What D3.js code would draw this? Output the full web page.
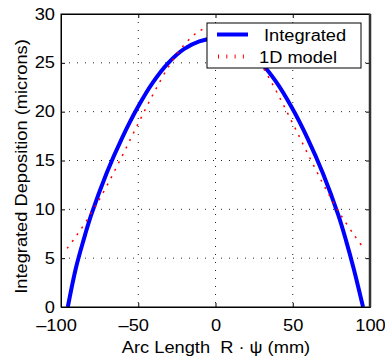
<!DOCTYPE html>
<html>
<head>
<meta charset="utf-8">
<script src="https://cdn.jsdelivr.net/npm/d3@7"></script>
<style>
    body { margin: 0; background: #fff; }
    #chart { width: 385px; height: 360px; }
    text { font-family: "Liberation Sans", Arial, sans-serif; font-size: 16px; fill: #000; }
</style>
</head>
<body>
<div id="chart"></div>
<script>

// Integrated deposition (blue solid)
const integratedX = [-95.6, -90.5, -85.5, -80.5, -70.5, -60.5, -50.5, -40.5, -30.5, -20.5, -10.5, -0.5,
    9.5, 19.5, 29.5, 39.5, 49.5, 59.5, 69.5, 79.5, 84.5, 89.5, 95.5];
const integratedY = [0, 3.9, 6.8, 9.4, 13.7, 17.3, 20.4, 23.0, 25.0, 26.4, 27.2, 27.5,
    27.2, 26.4, 25.0, 23.0, 20.4, 17.3, 13.7, 9.4, 6.8, 3.9, 0];

// 1D model (red dotted)
const modelX = [-96, -90, -80, -70, -60, -50, -40, -30, -20, -10, 0, 10, 20, 30, 40, 50, 60, 70, 80, 90, 96];
const modelY = [6.0, 7.3, 9.7, 12.5, 15.6, 18.8, 21.9, 24.7, 26.9, 28.3, 28.8, 28.3, 26.9, 24.7, 21.9, 18.8, 15.6, 12.5, 9.7, 7.3, 6.0];

const xTicks = [-100, -50, 0, 50, 100];
const yTicks = [0, 5, 10, 15, 20, 25, 30];
const seriesNames = ["Integrated", "1D model"];

class DepositionVis {

    constructor(parentElement) {
        this.parentElement = parentElement;
        this.integrated = integratedX.map((x, i) => ({x: x, y: integratedY[i]}));
        this.model = modelX.map((x, i) => ({x: x, y: modelY[i]}));
        this.initVis();
    }

    initVis() {
        let vis = this;

        vis.margin = {top: 14, right: 15, bottom: 53, left: 61};
        vis.width = 385 - vis.margin.left - vis.margin.right;
        vis.height = 360 - vis.margin.top - vis.margin.bottom;

        vis.svg = d3.select("#" + vis.parentElement).append("svg")
            .attr("width", 385)
            .attr("height", 360)
            .append("g")
            .attr("transform", `translate(${vis.margin.left}, ${vis.margin.top})`);

        vis.x = d3.scaleLinear().domain([-100, 100]).range([0, vis.width]);
        vis.y = d3.scaleLinear().domain([0, 30]).range([vis.height, 0]);

        // dotted grid
        vis.svg.selectAll(".vgrid")
            .data(xTicks.slice(1, -1))
            .enter()
            .append("line")
            .attr("class", "vgrid")
            .attr("x1", d => vis.x(d)).attr("x2", d => vis.x(d))
            .attr("y1", 0).attr("y2", vis.height)
            .attr("stroke", "#222")
            .attr("stroke-dasharray", "1,7");

        vis.svg.selectAll(".hgrid")
            .data(yTicks.slice(1, -1))
            .enter()
            .append("line")
            .attr("class", "hgrid")
            .attr("x1", 0).attr("x2", vis.width)
            .attr("y1", d => vis.y(d)).attr("y2", d => vis.y(d))
            .attr("stroke", "#222")
            .attr("stroke-dasharray", "1,7");

        // axes with inward ticks on all four sides
        vis.svg.append("g")
            .attr("transform", `translate(0, ${vis.height})`)
            .call(d3.axisBottom(vis.x).tickValues(xTicks).tickSizeInner(-4).tickSizeOuter(0).tickPadding(13)
                .tickFormat(d => d < 0 ? "\u2013" + Math.abs(d) : d));
        vis.svg.append("g")
            .call(d3.axisTop(vis.x).tickValues(xTicks).tickSizeInner(-4).tickSizeOuter(0).tickFormat(""));
        vis.svg.append("g")
            .call(d3.axisLeft(vis.y).tickValues(yTicks).tickSizeInner(-4).tickSizeOuter(0).tickPadding(6));
        vis.svg.append("g")
            .attr("transform", `translate(${vis.width}, 0)`)
            .call(d3.axisRight(vis.y).tickValues(yTicks).tickSizeInner(-4).tickSizeOuter(0).tickFormat(""));

        vis.svg.selectAll(".domain").attr("stroke", "#000");
        vis.svg.selectAll(".tick line").attr("stroke", "#000");
        vis.svg.selectAll(".tick text").style("font-size", "16px").style("font-family", null);

        // clip so the curves stop at the frame
        vis.svg.append("clipPath").attr("id", "plotClip")
            .append("rect").attr("width", vis.width).attr("height", vis.height);

        vis.line = d3.line()
            .curve(d3.curveCatmullRom.alpha(0.5))
            .x(d => vis.x(d.x))
            .y(d => vis.y(d.y));

        vis.svg.append("path")
            .attr("clip-path", "url(#plotClip)")
            .attr("d", vis.line(vis.integrated))
            .attr("fill", "none")
            .attr("stroke", "#0000ff")
            .attr("stroke-width", 4);

        vis.svg.append("path")
            .attr("clip-path", "url(#plotClip)")
            .attr("d", vis.line(vis.model))
            .attr("fill", "none")
            .attr("stroke", "#ff0000")
            .attr("stroke-width", 1.5)
            .attr("stroke-dasharray", "2,6.3");

        // frame on top
        vis.svg.append("rect")
            .attr("width", vis.width).attr("height", vis.height)
            .attr("fill", "none").attr("stroke", "#000").attr("stroke-width", 1);
        vis.svg.append("line")
            .attr("x1", vis.width).attr("x2", vis.width)
            .attr("y1", 0).attr("y2", vis.height)
            .attr("stroke", "#333").attr("stroke-width", 2.5);

        // legend
        vis.legend = vis.svg.append("g")
            .attr("transform", "translate(146, 9)");
        vis.legend.append("rect")
            .attr("width", 154).attr("height", 45)
            .attr("fill", "#fff").attr("stroke", "#000");
        vis.legend.append("line")
            .attr("x1", 10).attr("x2", 41).attr("y1", 11.5).attr("y2", 11.5)
            .attr("stroke", "#0000ff").attr("stroke-width", 4);
        vis.legend.append("line")
            .attr("x1", 11).attr("x2", 42).attr("y1", 33.5).attr("y2", 33.5)
            .attr("stroke", "#ff0000").attr("stroke-width", 4)
            .attr("stroke-dasharray", "1,7.3");
        vis.legend.selectAll(".labels")
            .data(seriesNames)
            .enter()
            .append("text")
            .attr("class", "labels")
            .attr("x", (d, i) => i === 0 ? 57 : 52)
            .attr("y", (d, i) => 17.5 + i * 22.5)
            .text(d => d);

        // axis titles
        vis.svg.append("text")
            .attr("x", vis.x(0) + 0.5)
            .attr("y", vis.height + 46)
            .attr("text-anchor", "middle")
            .style("white-space", "pre")
            .text("Arc Length  R \u00b7 \u03c8 (mm)");

        vis.svg.append("text")
            .attr("transform", `translate(${-34}, ${vis.height / 2 + 6}) rotate(-90)`)
            .attr("text-anchor", "middle")
            .text("Integrated Deposition (microns)");

        // reference type is a little wider than Arial
        d3.selectAll("svg text").each(function() {
            let w = this.getComputedTextLength();
            if (w > 0) {
                d3.select(this).attr("textLength", w * 1.14).attr("lengthAdjust", "spacingAndGlyphs");
            }
        });
        vis.svg.selectAll(".tick text").attr("dx", d => d < 0 ? -5 : 0);
    }
}

new DepositionVis("chart");
</script>
</body>
</html>
